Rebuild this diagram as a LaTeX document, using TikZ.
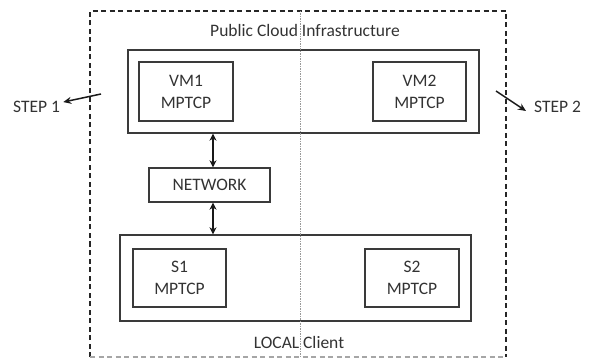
\documentclass[tikz,border=0pt]{standalone}
\usepackage{fontspec}
\setmainfont{Carlito}
\usetikzlibrary{arrows.meta}
\definecolor{ink}{HTML}{333333}
\definecolor{edge}{HTML}{3A3A3A}
\tikzset{
  box/.style={draw=edge, line width=1.4pt, inner sep=0pt, align=center,
    text=ink, font=\fontsize{17.5}{22}\selectfont},
  lbl/.style={inner sep=0pt, text=ink, font=\fontsize{17.5}{22}\selectfont},
  frame/.style={draw=black!85, line width=1.7pt, dash pattern=on 5pt off 3.5pt},
  split/.style={draw=black!40, line width=1.2pt, dash pattern=on 1.2pt off 1.3pt},
  link/.style={line width=1.6pt, draw=black!90,
    {Stealth[length=7pt,width=7pt]}-{Stealth[length=7pt,width=7pt]}},
  pointer/.style={line width=1.5pt, draw=black!90, -{Stealth[length=8pt,width=7pt]}}
}
\begin{document}
\begin{tikzpicture}[x=1pt, y=-1pt]
\useasboundingbox (0,0) rectangle (597,358);

% dashed outer frame (lower edge lighter)
\coordinate (fTL) at (90,11);
\coordinate (fTR) at (506,11);
\coordinate (fBL) at (90,357);
\coordinate (fBR) at (506,357);
\draw[frame] (fBL) -- (fTL) -- (fTR) -- (fBR);
\draw[draw=black!35, line width=1.2pt, dash pattern=on 5pt off 3.5pt] (fBL) -- (fBR);

% cloud side
\node[box, minimum width=351pt, minimum height=83pt] (cloud) at (303.5,91.5) {};
\node[box, minimum width=94pt, minimum height=59pt] (vm1) at (186,91.5) {VM1\\MPTCP};
\node[box, minimum width=93pt, minimum height=59pt] (vm2) at (419.5,91.5) {VM2\\MPTCP};
\node[lbl] (cloudlbl) at (305,30) {Public Cloud Infrastructure};

% network
\node[box, minimum width=121pt, minimum height=34pt] (net) at (209.5,185) {NETWORK};

% local side
\node[box, minimum width=351pt, minimum height=86pt] (local) at (295.5,278) {};
\node[box, minimum width=93pt, minimum height=58pt] (s1) at (179.5,278) {S1\\MPTCP};
\node[box, minimum width=94pt, minimum height=58pt] (s2) at (412,278) {S2\\MPTCP};
\node[lbl] (locallbl) at (299,342) {LOCAL Client};

% links through the network
\draw[link] ([xshift=3.5pt]net.north |- cloud.south) -- ([xshift=3.5pt]net.north);
\draw[link] ([xshift=3.5pt]net.south) -- ([xshift=3.5pt]net.south |- local.north);

% dotted centre split
\coordinate (splitTop) at (300.5,11);
\coordinate (splitBot) at (300.5,357);
\draw[split] (splitTop) -- (splitBot);

% steps
\node[lbl, anchor=west] (step1) at (13,107) {STEP 1};
\node[lbl, anchor=west] (step2) at (534,107) {STEP 2};
\coordinate (p1) at (101,94);
\coordinate (p2) at (496,91);
\draw[pointer] (p1) -- ([shift={(3pt,-1pt)}]step1.north east);
\draw[pointer] (p2) -- ([shift={(-8pt,-4pt)}]step2.west);
\end{tikzpicture}
\end{document}
